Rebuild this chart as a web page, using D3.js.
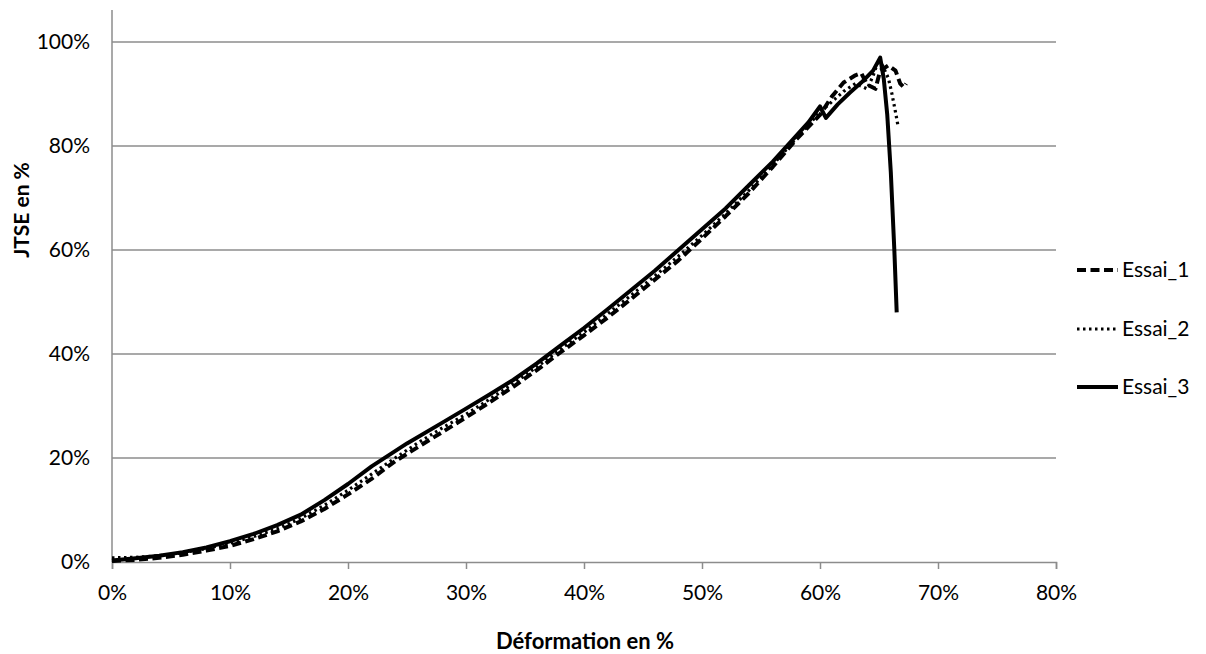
<!DOCTYPE html>
<html><head><meta charset="utf-8">
<script src="https://cdn.jsdelivr.net/npm/d3@7"></script>
<style>body{margin:0;background:#fff}svg{display:block}text{font-family:Lato,"Open Sans",sans-serif;fill:#000}</style>
</head><body><svg id="c" width="1206" height="654"></svg>
<script>
const seriesNames = ["Essai_1","Essai_2","Essai_3"];
const xTicks = [0,10,20,30,40,50,60,70,80];
const yTicks = [0,20,40,60,80,100];
const xTitle = "Déformation en %";
const yTitle = "JTSE en %";

const essai1X = [0,2,4,6,8,10,12,14,16,18,20,22,24,26,28,30,32,34,36,38,40,42,44,46,48,50,52,54,56,58,60,61,62,63,63.5,64,64.7,65.1,65.8,66.4,66.8,67.1,67.3];
const essai1Y = [0.2,0.4,0.8,1.4,2.2,3.1,4.4,5.9,7.8,10.2,13.0,16.0,19.4,22.2,25.0,27.8,30.7,33.7,36.9,40.3,43.6,47.0,50.6,54.3,58.0,62.2,66.5,71.0,76.0,81.3,86.0,89.5,92.2,93.6,94.0,91.8,91.0,94.5,95.5,94.5,92.0,91.3,92.0];

const essai2X = [0,2,4,6,8,10,12,14,16,18,20,22,24,26,28,30,32,34,36,38,40,42,44,46,48,50,52,54,56,58,60,61,62,63,64,64.5,65.0,65.4,65.8,66.1,66.4,66.6];
const essai2Y = [0.8,0.9,1.2,1.8,2.6,3.6,4.9,6.4,8.4,10.9,13.8,16.9,20.0,23.0,25.8,28.4,31.3,34.3,37.5,40.9,44.2,47.7,51.3,55.0,58.8,62.8,67.0,71.5,76.4,81.5,86.5,88.5,90.5,92.0,91.0,93.5,96.8,95.0,93.0,90.0,86.5,84.0];

const essai3X = [0,2,4,6,8,10,12,14,16,18,20,22,25,28,30,32,34,36,38,40,42,44,46,48,50,52,54,56,58,59,60,60.5,61.5,62.5,63.5,64.5,65.1,65.4,65.7,66.0,66.3,66.5];
const essai3Y = [0.3,0.7,1.2,1.9,2.8,4.0,5.4,7.1,9.1,11.9,15.0,18.4,22.8,26.8,29.5,32.2,35.0,38.2,41.6,45.0,48.6,52.3,56.0,60.0,64.0,68.0,72.5,77.0,82.0,84.5,87.6,85.4,88.0,90.2,92.2,94.5,97.0,93.0,86.0,75.0,60.0,48.0];

const svg = d3.select("#c");
const x = d3.scaleLinear([0,80],[112,1056]);
const y = d3.scaleLinear([0,100],[562,42]);
const grey = "#8c8c8c";

// gridlines
svg.append("g").selectAll("line").data(yTicks.filter(d=>d>0)).join("line")
  .attr("x1",x(0)).attr("x2",x(80)).attr("y1",d=>y(d)).attr("y2",d=>y(d))
  .attr("stroke",grey).attr("stroke-width",1.5);

// y axis
svg.append("line").attr("x1",x(0)).attr("x2",x(0)).attr("y1",10).attr("y2",y(0))
  .attr("stroke",grey).attr("stroke-width",1.5);
svg.append("g").selectAll("text").data(yTicks).join("text")
  .attr("x",90).attr("y",d=>y(d)).attr("dy","0.35em").attr("text-anchor","end")
  .attr("font-size",21).text(d=>d+"%");

// x axis
const xa = svg.append("g").attr("transform",`translate(0,${y(0)})`)
  .call(d3.axisBottom(x).tickValues(xTicks).tickSize(7).tickFormat(d=>d+"%"));
xa.select(".domain").attr("stroke",grey).attr("stroke-width",1.5);
xa.selectAll(".tick line").attr("stroke",grey).attr("stroke-width",1.5);
xa.selectAll(".tick text").attr("font-size",21).attr("font-family","Lato").attr("y",31).attr("dy","0.35em").attr("fill","#000");

// titles
svg.append("text").attr("x",585).attr("y",641).attr("dy","0.35em").attr("text-anchor","middle")
  .attr("font-size",22).attr("font-weight","bold").text(xTitle);
svg.append("text").attr("transform","translate(22,210) rotate(-90)").attr("dy","0.35em")
  .attr("text-anchor","middle").attr("font-size",21).attr("font-weight","bold").text(yTitle);

// series
const styles = [
  {dash:"9,4.5", w:4},
  {dash:"2.5,3.5", w:3.2},
  {dash:null, w:4}
];
const data = [
  essai1X.map((v,i)=>[v,essai1Y[i]]),
  essai2X.map((v,i)=>[v,essai2Y[i]]),
  essai3X.map((v,i)=>[v,essai3Y[i]])
];
const line = d3.line().x(d=>x(d[0])).y(d=>y(d[1]));
data.forEach((d,i)=>{
  svg.append("path").attr("d",line(d)).attr("fill","none").attr("stroke","#000")
    .attr("stroke-width",styles[i].w).attr("stroke-dasharray",styles[i].dash)
    .attr("stroke-linejoin","round");
});

// legend
const legY = [270,329,387];
seriesNames.forEach((n,i)=>{
  svg.append("line").attr("x1",1077).attr("x2",1118).attr("y1",legY[i]).attr("y2",legY[i])
    .attr("stroke","#000").attr("stroke-width",styles[i].w).attr("stroke-dasharray",styles[i].dash);
  svg.append("text").attr("x",1122).attr("y",legY[i]).attr("dy","0.35em").attr("font-size",21).text(n);
});
</script></body></html>
